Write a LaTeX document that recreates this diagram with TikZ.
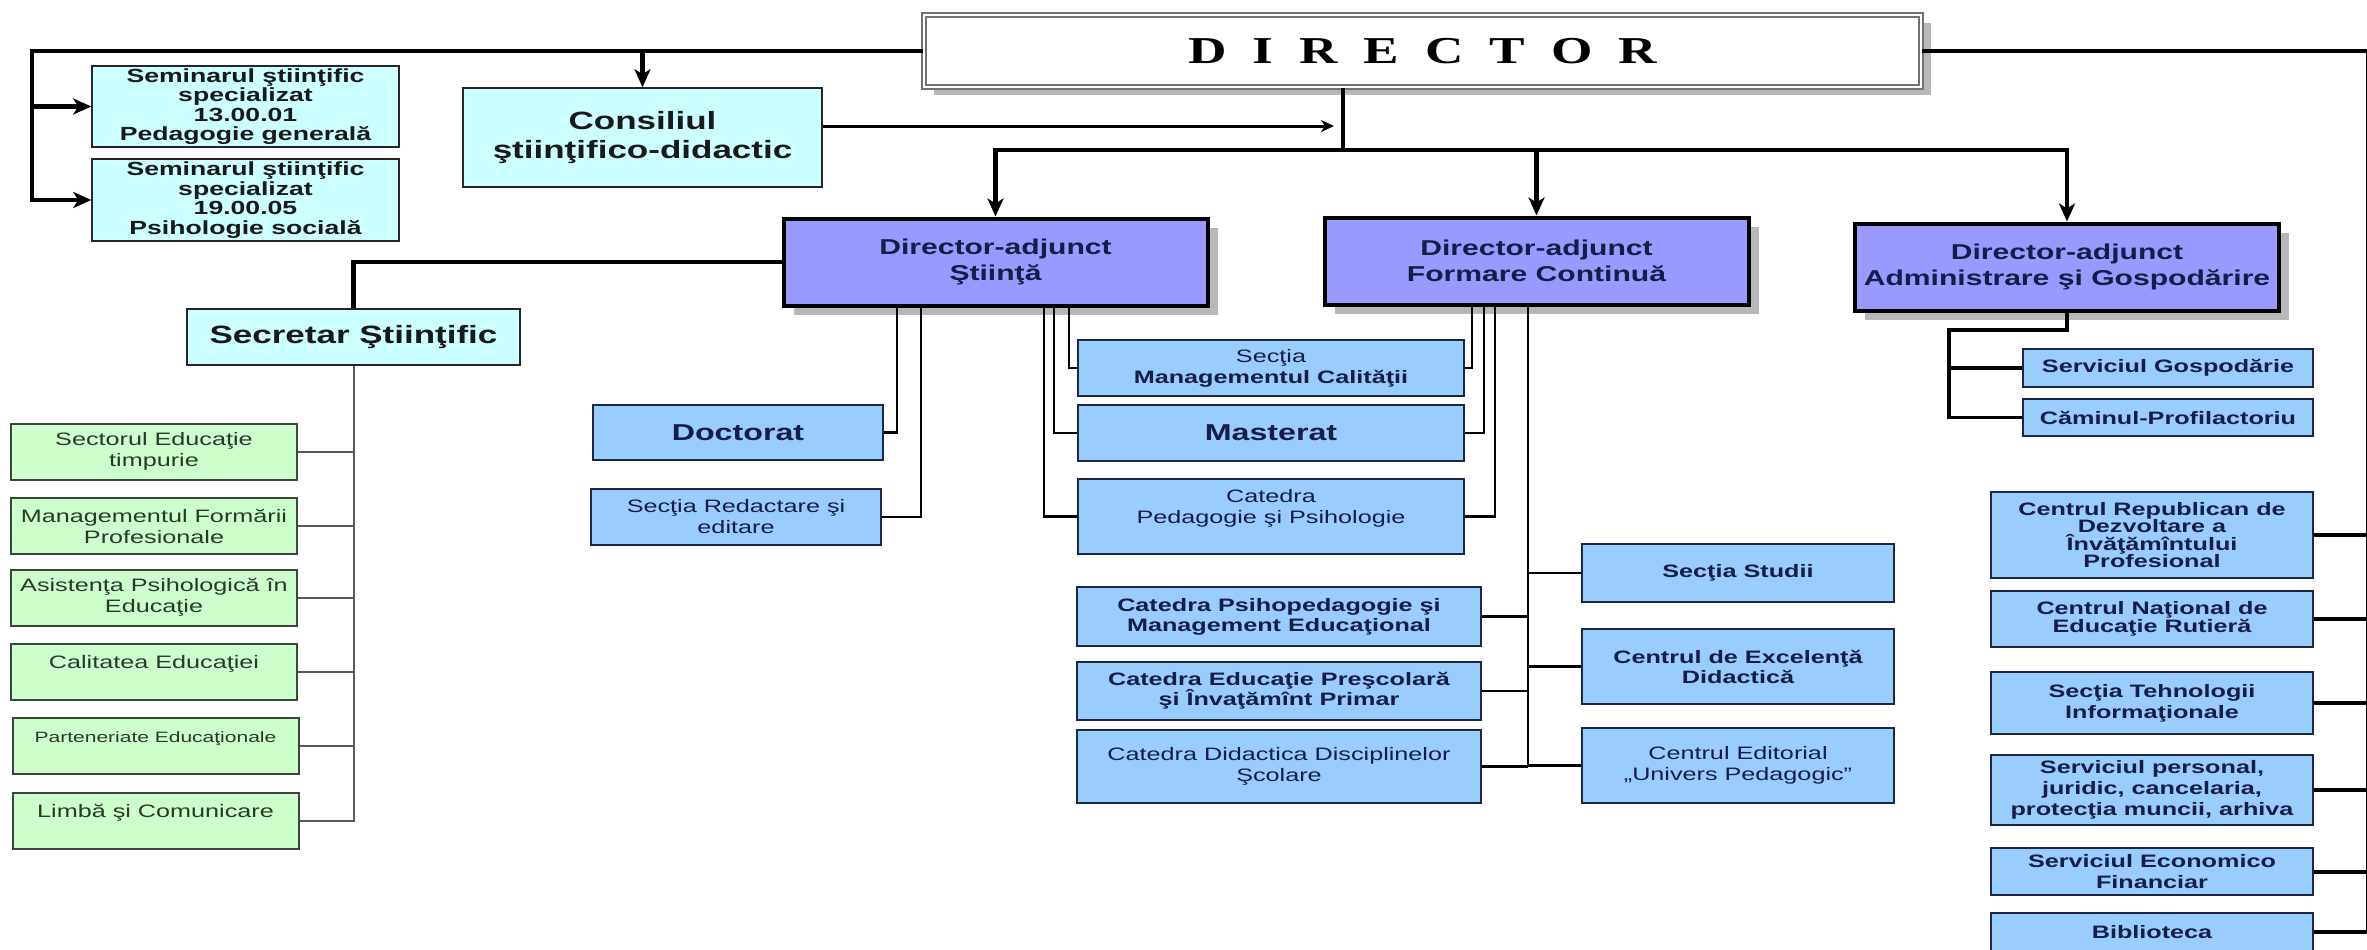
\documentclass[tikz,border=0pt]{standalone}
\usepackage{fontspec}
\usetikzlibrary{arrows.meta,shadows}
\newfontfamily\boxfont[FakeStretch=1.4]{Liberation Sans}
\newfontfamily\dirfont[FakeStretch=1.4]{Liberation Serif}
\definecolor{cyanfill}{HTML}{CCFFFF}
\definecolor{dafill}{HTML}{9999FF}
\definecolor{bluefill}{HTML}{99CCFF}
\definecolor{greenfill}{HTML}{CCFFCC}
\definecolor{navytext}{HTML}{141E46}
\definecolor{blueline}{HTML}{1C2740}
\definecolor{greentext}{HTML}{2A3A2A}
\definecolor{greenline}{HTML}{3C463C}
\newcommand{\dgap}{\hspace{26pt}}
\tikzset{
  orgbox/.style={rectangle, inner sep=2pt, align=center},
  cyanbox/.style={orgbox, draw=black!85, line width=1.5pt, fill=cyanfill, text=black!90},
  dabox/.style={orgbox, draw=black, line width=4pt, fill=dafill, text=navytext,
    minimum width=424pt, minimum height=87pt,
    font=\boxfont\bfseries\fontsize{21.5}{26}\selectfont,
    drop shadow={shadow xshift=10pt, shadow yshift=-9pt, fill=black!28, opacity=1}},
  bluebox/.style={orgbox, draw=blueline, line width=2pt, fill=bluefill, text=navytext},
  greenbox/.style={orgbox, draw=greenline, line width=2pt, fill=greenfill, text=greentext,
    minimum width=286pt, minimum height=56pt, font=\boxfont\fontsize{18}{21}\selectfont},
  reg/.style={font=\boxfont\fontsize{18}{21}\selectfont},
  bld/.style={font=\boxfont\bfseries\fontsize{18}{20}\selectfont},
  bldr/.style={font=\boxfont\bfseries\fontsize{18}{21}\selectfont},
  tight/.style={font=\boxfont\bfseries\fontsize{18}{17.5}\selectfont},
  big/.style={font=\boxfont\bfseries\fontsize{23}{26}\selectfont},
  heavy/.style={line width=4.5pt},
  rline/.style={line width=4pt},
  medl/.style={line width=3.5pt},
  thinl/.style={line width=2.5pt},
  grayl/.style={line width=2pt, draw=black!65},
  arr/.style={-{Stealth[length=18pt,width=16pt,inset=5pt]}},
  smallarr/.style={-{Stealth[length=13pt,width=12pt,inset=4pt]}},
}
\begin{document}
\begin{tikzpicture}[x=1pt, y=-1pt]
\path[fill=white, use as bounding box] (0,0) rectangle (2367,950);

\node[orgbox, draw=black!55, line width=1.3pt, double=white, double distance=2.5pt,
  fill=white, minimum width=997pt, minimum height=72pt,
  drop shadow={shadow xshift=10pt, shadow yshift=-8pt, fill=black!28, opacity=1},
  font=\dirfont\bfseries\fontsize{38}{40}\selectfont]
  (DIR) at (1422.5,51) {D\dgap I\dgap R\dgap E\dgap C\dgap T\dgap O\dgap R};

\node[cyanbox, minimum width=307pt, minimum height=81pt,
  font=\boxfont\bfseries\fontsize{19}{19.5}\selectfont] (Sem1) at (245.5,106.5)
  {Seminarul ştiinţific\\specializat\\13.00.01\\Pedagogie generală};
\node[cyanbox, minimum width=307pt, minimum height=82pt,
  font=\boxfont\bfseries\fontsize{19}{19.5}\selectfont] (Sem2) at (245.5,200)
  {Seminarul ştiinţific\\specializat\\19.00.05\\Psihologie socială};
\node[cyanbox, minimum width=359pt, minimum height=99pt,
  font=\boxfont\bfseries\fontsize{25}{29}\selectfont] (Cons) at (642.5,137.5)
  {Consiliul\\ştiinţifico-didactic};
\node[cyanbox, minimum width=333pt, minimum height=56pt,
  font=\boxfont\bfseries\fontsize{25}{29}\selectfont] (Sec) at (353.5,337)
  {Secretar Ştiinţific};

\node[dabox] (DA1) at (995.5,262) {Director-adjunct\\Ştiinţă};
\node[dabox] (DA2) at (1536.5,261) {Director-adjunct\\Formare Continuă};
\node[dabox] (DA3) at (2067,267) {Director-adjunct\\Administrare şi Gospodărire};

\node[greenbox] (G1) at (154,451.5) {Sectorul Educaţie\\timpurie};
\node[greenbox] (G2) at (154,526) {Managementul Formării\\Profesionale};
\node[greenbox] (G3) at (154,597.5) {Asistenţa Psihologică în\\Educaţie};
\node[greenbox] (G4) at (154,672) {Calitatea Educaţiei\\\mbox{}};
\node[greenbox, font=\boxfont\fontsize{15}{18}\selectfont] (G5) at (155.5,746)
  {Parteneriate Educaţionale\\\mbox{}};
\node[greenbox] (G6) at (155.5,821) {Limbă şi Comunicare\\\mbox{}};

\node[bluebox, big, minimum width=290pt, minimum height=55pt] (Doc) at (738,432.5) {Doctorat};
\node[bluebox, reg, minimum width=290pt, minimum height=56pt] (SRed) at (736,517)
  {Secţia Redactare şi\\editare};
\node[bluebox, reg, minimum width=386pt, minimum height=56pt] (SMC) at (1271,368)
  {Secţia\\\textbf{Managementul Calităţii}};
\node[bluebox, big, minimum width=386pt, minimum height=56pt] (Mast) at (1271,433) {Masterat};
\node[bluebox, reg, minimum width=386pt, minimum height=75pt] (CPP) at (1271,516.5)
  {Catedra\\Pedagogie şi Psihologie\\\mbox{}};

\node[bluebox, bld, minimum width=404pt, minimum height=59pt] (CPM) at (1279,616.5)
  {Catedra Psihopedagogie şi\\Management Educaţional};
\node[bluebox, bld, minimum width=404pt, minimum height=58pt] (CEP) at (1279,691)
  {Catedra Educaţie Preşcolară\\şi Învaţămînt Primar};
\node[bluebox, reg, minimum width=404pt, minimum height=73pt] (CDD) at (1279,766.5)
  {Catedra Didactica Disciplinelor\\Şcolare};
\node[bluebox, bld, minimum width=312pt, minimum height=58pt] (SS) at (1738,573) {Secţia Studii};
\node[bluebox, bld, minimum width=312pt, minimum height=75pt] (CED) at (1738,666.5)
  {Centrul de Excelenţă\\Didactică};
\node[bluebox, reg, minimum width=312pt, minimum height=75pt] (CEU) at (1738,765.5)
  {Centrul Editorial\\„Univers Pedagogic”};

\node[bluebox, bld, minimum width=290pt, minimum height=38pt] (SG) at (2168,368)
  {Serviciul Gospodărie};
\node[bluebox, bld, minimum width=290pt, minimum height=37pt] (CP) at (2168,417.5)
  {Căminul-Profilactoriu};
\node[bluebox, tight, minimum width=322pt, minimum height=86pt] (CR) at (2152,535)
  {Centrul Republican de\\Dezvoltare a\\Învăţămîntului\\Profesional};
\node[bluebox, tight, minimum width=322pt, minimum height=56pt] (CN) at (2152,619)
  {Centrul Naţional de\\Educaţie Rutieră};
\node[bluebox, bldr, minimum width=322pt, minimum height=62pt] (ST) at (2152,703)
  {Secţia Tehnologii\\Informaţionale};
\node[bluebox, bldr, minimum width=322pt, minimum height=70pt] (SP) at (2152,790)
  {Serviciul personal,\\juridic, cancelaria,\\protecţia muncii, arhiva};
\node[bluebox, bldr, minimum width=322pt, minimum height=47pt] (SE) at (2152,871.5)
  {Serviciul Economico\\Financiar};
\node[bluebox, bldr, minimum width=322pt, minimum height=38pt] (BIB) at (2152,932) {Biblioteca};

\coordinate (tl) at (32,51);
\coordinate (tr) at (2368,51);
\coordinate (dj) at (1343,150);
\coordinate (ca) at (1334,126);
\coordinate (ab) at (1949,330);

\draw[heavy,arr] (DIR.west) -- (tl) |- (Sem2.west);
\draw[heavy,arr] (Sem1.west -| tl) -- (Sem1.west);
\draw[heavy,arr] (Cons.north |- tl) -- (Cons.north);
\draw[heavy] (DIR.east) -- (tr) |- (BIB.east);
\draw[rline] (CR.east) -- (CR.east -| tr);
\draw[rline] (CN.east) -- (CN.east -| tr);
\draw[rline] (ST.east) -- (ST.east -| tr);
\draw[rline] (SP.east) -- (SP.east -| tr);
\draw[rline] (SE.east) -- (SE.east -| tr);

\draw[heavy] (DIR.south -| dj) -- (dj);
\draw[line width=3pt,smallarr] (Cons.east |- ca) -- (ca);
\draw[heavy,arr] (dj) -| (DA1.north);
\draw[heavy,arr] (dj) -| (DA3.north);
\draw[heavy,arr] (DA2.north |- dj) -- (DA2.north);
\draw[heavy] (DA1.west) -| (Sec.north);

\draw[grayl] (Sec.south) |- (G6.east);
\draw[grayl] (G1.east) -- (G1.east -| Sec.south);
\draw[grayl] (G2.east) -- (G2.east -| Sec.south);
\draw[grayl] (G3.east) -- (G3.east -| Sec.south);
\draw[grayl] (G4.east) -- (G4.east -| Sec.south);
\draw[grayl] (G5.east) -- (G5.east -| Sec.south);

\draw[thinl] ([xshift=-98.5pt]DA1.south) |- (Doc.east);
\draw[thinl] ([xshift=-74.5pt]DA1.south) |- (SRed.east);
\draw[thinl] ([xshift=48.5pt]DA1.south) |- (CPP.west);
\draw[thinl] ([xshift=58.5pt]DA1.south) |- (Mast.west);
\draw[thinl] ([xshift=73.5pt]DA1.south) |- (SMC.west);
\draw[thinl] ([xshift=-64.5pt]DA2.south) |- (SMC.east);
\draw[thinl] ([xshift=-52.5pt]DA2.south) |- (Mast.east);
\draw[thinl] ([xshift=-41.5pt]DA2.south) |- (CPP.east);

\draw[thinl] ([xshift=-8.5pt]DA2.south) coordinate (cv) -- (cv |- CDD.east);
\draw[thinl] (CPM.east) -- (CPM.east -| cv);
\draw[thinl] (CEP.east) -- (CEP.east -| cv);
\draw[thinl] (CDD.east) -- (CDD.east -| cv);
\draw[thinl] (SS.west) -- (SS.west -| cv);
\draw[thinl] (CED.west) -- (CED.west -| cv);
\draw[thinl] (CEU.west) -- (CEU.west -| cv);

\draw[medl] (DA3.south) |- (ab) |- (CP.west);
\draw[medl] (SG.west) -- (SG.west -| ab);
\end{tikzpicture}
\end{document}
